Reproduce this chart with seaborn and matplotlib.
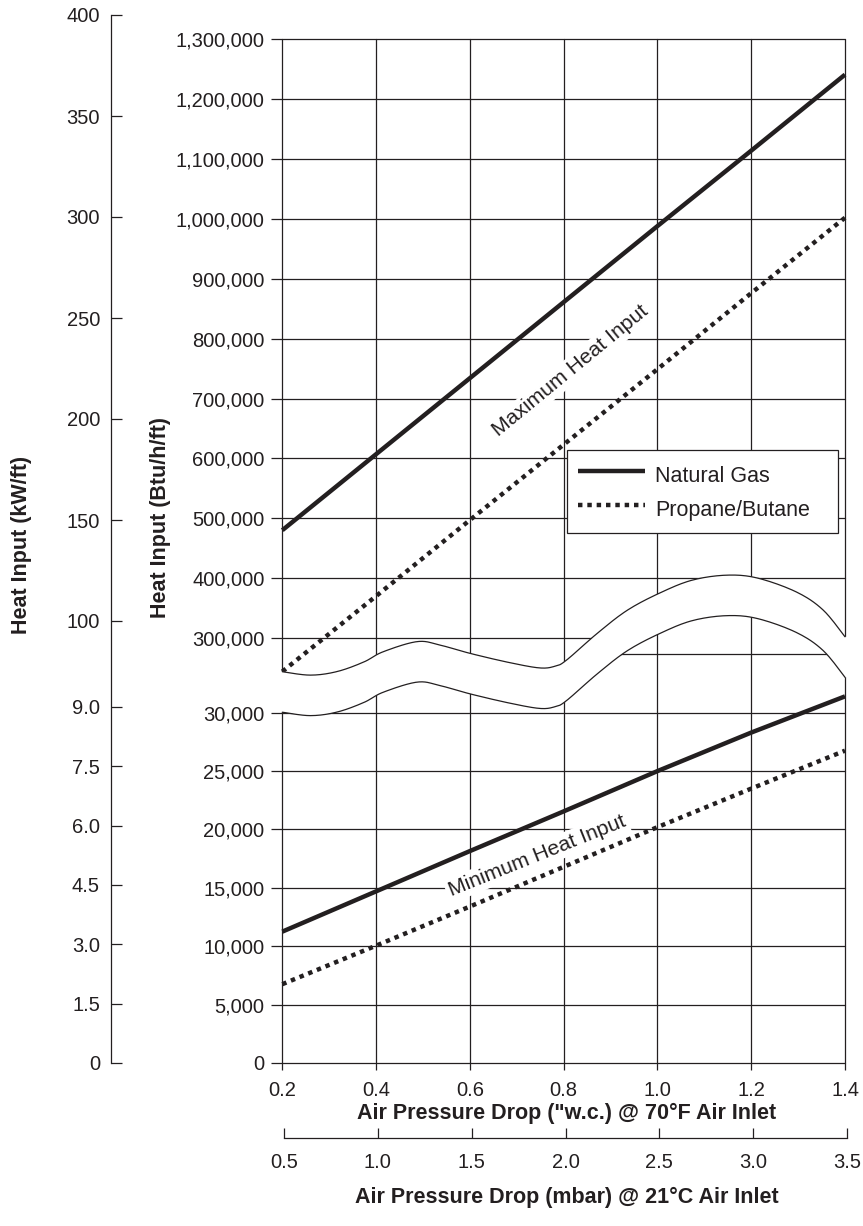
import numpy as np
import pandas as pd
import matplotlib
matplotlib.use('Agg')
import matplotlib.pyplot as plt
import matplotlib.transforms as mtransforms
from matplotlib.lines import Line2D
from matplotlib.path import Path
import seaborn as sns

# Datos
pressure_wc = [0.2, 0.4, 0.6, 0.8, 1.0, 1.2, 1.4]
max_natural_gas = [480000, 607000, 734000, 861000, 988000, 1114000, 1241000]
max_propane = [244000, 370000, 497000, 623000, 749000, 876000, 1002000]
min_natural_gas = [11250, 14700, 18150, 21550, 25000, 28300, 31400]
min_propane = [6750, 10050, 13400, 16800, 20200, 23500, 26750]

btu_upper_ticks = [300000, 400000, 500000, 600000, 700000, 800000, 900000,
                   1000000, 1100000, 1200000, 1300000]
btu_lower_ticks = [0, 5000, 10000, 15000, 20000, 25000, 30000]
kw_ticks = [0, 1.5, 3.0, 4.5, 6.0, 7.5, 9.0, 100, 150, 200, 250, 300, 350, 400]
kw_labels = ['0', '1.5', '3.0', '4.5', '6.0', '7.5', '9.0',
             '100', '150', '200', '250', '300', '350', '400']
mbar_ticks = [0.5, 1.0, 1.5, 2.0, 2.5, 3.0, 3.5]

# forma del corte ondulado (en unidades del eje superior)
break_x = [0.2, 0.26, 0.317, 0.374, 0.415, 0.488, 0.537, 0.602, 0.684, 0.749,
           0.782, 0.806, 0.872, 0.937, 1.01, 1.076, 1.149, 1.214, 1.296, 1.353, 1.4]
break_btu = [243700, 238000, 244000, 260000, 277000, 294000, 288000, 274000, 259000,
             250000, 253000, 263000, 308000, 347000, 377000, 397000, 405000, 400000,
             377000, 347000, 302000]
break_gap_px = 40.5

INK = '#231f20'
FS = 14.5       # numeros de los ejes
FS_TXT = 15.2   # notas
FS_LEG = 15.5   # leyenda
FS_LBL = 15.5   # titulos de ejes

sns.set_style('white')
plt.rcParams['font.family'] = ['Liberation Sans', 'DejaVu Sans']
plt.rcParams['text.color'] = INK

W, H = 863, 1226
fig = plt.figure(figsize=(W / 100, H / 100), dpi=100)


def box(left, top, right, bottom):
    return [left / W, 1 - bottom / H, (right - left) / W, (bottom - top) / H]


def catmull_rom(xs, ys, steps=16):
    pts = np.column_stack([xs, ys]).astype(float)
    pts = np.vstack([pts[0], pts, pts[-1]])
    t = np.linspace(0, 1, steps, endpoint=False)[:, None]
    segs = []
    for p0, p1, p2, p3 in zip(pts[:-3], pts[1:-2], pts[2:-1], pts[3:]):
        segs.append(0.5 * (2 * p1 + (p2 - p0) * t + (2 * p0 - 5 * p1 + 4 * p2 - p3) * t ** 2
                           + (3 * p1 - p0 - 3 * p2 + p3) * t ** 3))
    segs.append(pts[-2][None, :])
    return np.vstack(segs)


# ejes
top_px, px_per_100k = 39.3, 59.87
ax_top = fig.add_axes(box(282.3, top_px, 845, top_px + 11.5 * px_per_100k))
ax_top.set_xlim(0.2, 1.4)
ax_top.set_ylim(150000, 1300000)

zero_px, px_per_5k = 1063, 58.38
ax_bot = fig.add_axes(box(282.3, zero_px - 8 * px_per_5k, 845, zero_px))
ax_bot.set_xlim(0.2, 1.4)
ax_bot.set_ylim(0, 40000)

for ax in (ax_top, ax_bot):
    ax.patch.set_visible(False)
    ax.grid(False)
    for s in ax.spines.values():
        s.set_visible(False)

curve = catmull_rom(break_x, break_btu)
top_poly = np.vstack([[0.19, curve[0, 1]], curve, [1.41, curve[-1, 1]],
                      [1.41, 2.0e6], [0.19, 2.0e6]])
bot_poly = np.vstack([[0.19, curve[0, 1]], curve, [1.41, curve[-1, 1]],
                      [1.41, -1.0e6], [0.19, -1.0e6]])
top_path, bot_path = Path(top_poly), Path(bot_poly)
top_trans = ax_top.transData
bot_trans = ax_top.transData + mtransforms.Affine2D().translate(0, -break_gap_px)


def clip_to(artist, path, trans):
    artist.set_clip_path(path, trans)
    artist.set_clip_box(None)


# rejilla
for v in btu_upper_ticks:
    clip_to(ax_top.axhline(v, color=INK, lw=0.9, zorder=1), top_path, top_trans)
for v in np.arange(0, 40000, 5000):
    clip_to(ax_bot.axhline(v, color=INK, lw=0.9, zorder=1), bot_path, bot_trans)
for x in pressure_wc:
    clip_to(ax_top.axvline(x, color=INK, lw=0.9, zorder=1), top_path, top_trans)
    clip_to(ax_bot.axvline(x, color=INK, lw=0.9, zorder=1), bot_path, bot_trans)

# corte ondulado
ax_top.plot(curve[:, 0], curve[:, 1], color=INK, lw=0.9, clip_on=False, zorder=2)
ax_top.plot(curve[:, 0], curve[:, 1], color=INK, lw=0.9, clip_on=False, zorder=2,
            transform=bot_trans)

# series
df = pd.DataFrame({'wc': pressure_wc, 'max_ng': max_natural_gas, 'max_lp': max_propane,
                   'min_ng': min_natural_gas, 'min_lp': min_propane})
dotted = (0, (1, 1.1))
for ax, col, ls, path, trans in [(ax_top, 'max_ng', '-', top_path, top_trans),
                                  (ax_top, 'max_lp', dotted, top_path, top_trans),
                                  (ax_bot, 'min_ng', '-', bot_path, bot_trans),
                                  (ax_bot, 'min_lp', dotted, bot_path, bot_trans)]:
    sns.lineplot(data=df, x='wc', y=col, ax=ax, color=INK, lw=3.2, linestyle=ls,
                 solid_capstyle='butt', dash_capstyle='butt', zorder=4)
    clip_to(ax.lines[-1], path, trans)

box_style = dict(facecolor='white', edgecolor='none', pad=2)
ax_top.text(0.814, 746000, 'Maximum Heat Input', rotation=39.4, rotation_mode='anchor',
            ha='center', va='center', fontsize=FS_TXT, bbox=box_style, zorder=3)
ax_bot.text(0.743, 17730, 'Minimum Heat Input', rotation=21.9, rotation_mode='anchor',
            ha='center', va='center', fontsize=FS_TXT, bbox=box_style, zorder=3)

# ticks Btu
ax_top.set_xticks([])
ax_top.set_yticks(btu_upper_ticks)
ax_top.set_yticklabels([f'{v:,}' for v in btu_upper_ticks])
ax_bot.set_yticks(btu_lower_ticks)
ax_bot.set_yticklabels([f'{v:,}' for v in btu_lower_ticks])
ax_bot.set_xticks(pressure_wc)
ax_bot.set_xticklabels([f'{v:.1f}' for v in pressure_wc])
for ax in (ax_top, ax_bot):
    ax.set_xlabel('')
    ax.set_ylabel('')
    ax.tick_params(axis='y', direction='out', length=7.8, width=0.9, pad=5,
                   labelsize=FS, colors=INK, left=True)
ax_bot.tick_params(axis='x', direction='out', length=5, width=0.9, pad=8,
                   labelsize=FS, colors=INK, bottom=True)

# eje kW/ft a la izquierda
kw_knots = [0, 9, 100, 400]
kw_heights = [0, 356, 442, 1048]
ax_kw = fig.add_axes(box(111, 15, 112, zero_px))
ax_kw.set_yscale('function', functions=(lambda v: np.interp(v, kw_knots, kw_heights),
                                         lambda h: np.interp(h, kw_heights, kw_knots)))
ax_kw.set_ylim(0, 400)
ax_kw.set_yticks(kw_ticks)
ax_kw.set_yticklabels(kw_labels)
ax_kw.minorticks_off()
ax_kw.set_xticks([])
ax_kw.patch.set_visible(False)
for name, s in ax_kw.spines.items():
    s.set_visible(name == 'left')
ax_kw.spines['left'].set_color(INK)
ax_kw.spines['left'].set_linewidth(0.9)
ax_kw.tick_params(axis='y', direction='in', length=8, width=0.9, pad=8,
                  labelsize=FS, colors=INK, left=True)

# eje mbar
ax_mb = fig.add_axes(box(284, 1137, 847, 1138))
ax_mb.set_xlim(0.5, 3.5)
ax_mb.set_xticks(mbar_ticks)
ax_mb.set_xticklabels([f'{v:.1f}' for v in mbar_ticks])
ax_mb.set_yticks([])
ax_mb.patch.set_visible(False)
for name, s in ax_mb.spines.items():
    s.set_visible(name == 'bottom')
ax_mb.spines['bottom'].set_color(INK)
ax_mb.spines['bottom'].set_linewidth(0.9)
ax_mb.tick_params(axis='x', direction='in', length=7.5, width=0.9, pad=11,
                  labelsize=FS, colors=INK, bottom=True)

# leyenda
handles = [Line2D([], [], color=INK, lw=3.2, solid_capstyle='butt'),
           Line2D([], [], color=INK, lw=3.2, linestyle=dotted, dash_capstyle='butt')]
leg = ax_top.legend(handles, ['Natural Gas', 'Propane/Butane'], loc='upper left',
                    bbox_to_anchor=(567 / W, 1 - 537 / H, 271 / W, 87 / H),
                    bbox_transform=fig.transFigure, mode='expand',
                    frameon=True, fancybox=False, edgecolor=INK, framealpha=1,
                    fontsize=FS_LEG, handlelength=3.1, handleheight=1.6,
                    handletextpad=0.5, borderpad=0.5, labelspacing=0.3, borderaxespad=0)
leg.get_frame().set_linewidth(0.9)
leg.set_zorder(10)

# titulos de ejes
bold = dict(fontsize=FS_LBL, fontweight='bold', ha='center', va='center')
fig.text(22 / W, 1 - 545 / H, 'Heat Input (kW/ft)', rotation=90, **bold)
fig.text(160 / W, 1 - 518 / H, 'Heat Input (Btu/h/ft)', rotation=90, **bold)
fig.text(567 / W, 1 - 1113 / H, 'Air Pressure Drop ("w.c.) @ 70°F Air Inlet', **bold)
fig.text(567 / W, 1 - 1197 / H, 'Air Pressure Drop (mbar) @ 21°C Air Inlet', **bold)

fig.savefig('out.png', dpi=100, facecolor='white')
